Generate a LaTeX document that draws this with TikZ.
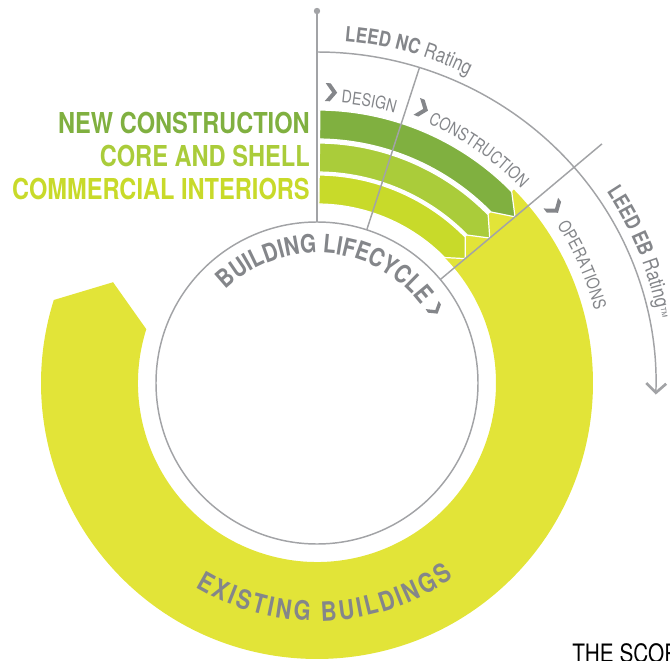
\documentclass[tikz,border=0pt]{standalone}
\usepackage{fontspec}
\setmainfont{TeX Gyre Heros}[FakeStretch=0.82]
\usetikzlibrary{decorations.text, arrows.meta}

\definecolor{ncgreen}{RGB}{128,176,64}
\definecolor{csgreen}{RGB}{170,204,58}
\definecolor{cigreen}{RGB}{200,218,42}
\definecolor{ebyellow}{RGB}{226,228,56}
\definecolor{leedgray}{RGB}{132,134,138}
\definecolor{leedline}{RGB}{162,163,166}

\newcommand\ratingfont{\fontsize{15.6}{18}\selectfont\bfseries\color{leedgray}}
\newcommand\phasefont{\fontsize{13}{15}\selectfont\color{leedgray}}
\newcommand\cyclefont{\fontsize{19}{22}\selectfont\bfseries}

\tikzset{
  guide/.style={draw=leedline, line width=1.1pt},
  band/.style={fill=#1, draw=white, line width=0.9pt},
  scheme/.style={font=\fontsize{21.6}{24}\selectfont\bfseries, inner sep=0pt, anchor=east},
  ebletter/.style={font=\fontsize{20}{23}\selectfont\bfseries, text=leedgray, inner sep=0pt, anchor=base},
  chev/.pic={\fill[leedgray] (-6,9) -- (-1,9) -- (6,0) -- (-1,-9) -- (-6,-9) -- (1,0) -- cycle;}
}

\begin{document}
\begin{tikzpicture}[x=0.75pt,y=0.75pt]
\useasboundingbox (-317,-277) rectangle (353,383);
% existing buildings ring
\fill[ebyellow] (44.5:276) arc[start angle=44.5, end angle=-197.5, radius=276] -- (-206.3:227.5) -- (-197.5:179) arc[start angle=-197.5, end angle=44.5, radius=179] -- cycle;
\foreach \ri/\ro/\col in {244/273/ncgreen, 211/240/csgreen, 179/208/cigreen}
  \draw[band=\col] (89.4:\ro) arc[start angle=89.4, end angle=44.5, radius=\ro] -- (40:{(\ri+\ro)/2}) -- (44.5:\ri) arc[start angle=44.5, end angle=89.4, radius=\ri] -- cycle;
\draw[guide] (0,0) circle[radius=161];
\draw[guide] (90:161) -- (90:372);
\fill[leedline] (90:372) circle[radius=3.2];
\draw[guide] (72:161) -- (72:332);
\draw[guide] (40:161) -- (40:372);
\draw[guide, -{Straight Barb[length=7pt, width=15pt, line width=2pt]}] (90:331) arc[start angle=90, end angle=-2, x radius=339, y radius=331];
\pic[rotate=-3] at (87.2:291) {chev};
\pic[rotate=-21] at (69:294) {chev};
\pic[rotate=-53.6] at (36.4:295) {chev};
\pic[rotate=-58, scale=0.85] at (32:139) {chev};
\path[decorate, decoration={text along path, text align=center, text={|\ratingfont|LEED NC |\ratingfont\mdseries|Rating}}] (89.6:343) arc[start angle=89.6, end angle=59.6, radius=343];
\path[decorate, decoration={text along path, text align=center, text={|\ratingfont|LEED EB |\ratingfont\mdseries|Rating|\ratingfont\mdseries\fontsize{10}{12}\selectfont|™}}] (37:347) arc[start angle=37, end angle=7, radius=347];
\path[decorate, decoration={text along path, text align=center, text={|\phasefont|DESIGN}}] (89:281) arc[start angle=89, end angle=70, radius=281];
\path[decorate, decoration={text along path, text align=center, text={|\phasefont|CONSTRUCTION}}] (70.2:282) arc[start angle=70.2, end angle=40.2, radius=282];
\path[decorate, decoration={text along path, text align=center, text={|\phasefont|OPERATIONS}}] (39:287) arc[start angle=39, end angle=9, radius=287];
\path[decorate, decoration={text along path, text align=center, text={|\cyclefont\color{leedgray}|BUILDING LIFECYCLE}}] (148:130) arc[start angle=148, end angle=23, radius=130];
\foreach \ch/\ang [count=\k] in {E/241.01, X/245.17, I/248.29, S/251.42, T/255.42, I/258.40, N/261.67, G/266.27,
    B/272.96, U/277.40, I/280.68, L/283.66, D/287.81, I/291.08, N/294.35, G/298.94, S/303.39}
  \node[ebletter, rotate=\ang+90] (eb\k) at (\ang:238) {\ch};
\node[scheme, text=ncgreen] (nclabel) at (-7,260) {NEW CONSTRUCTION};
\node[scheme, text=csgreen] (cslabel) at (-7,227) {CORE AND SHELL};
\node[scheme, text=cigreen] (cilabel) at (-7,194) {COMMERCIAL INTERIORS};
\node[anchor=base west, inner sep=0pt, font=\fontsize{19}{22}\selectfont] (scope) at (255,-279) {THE SCOPE};
\end{tikzpicture}
\end{document}
